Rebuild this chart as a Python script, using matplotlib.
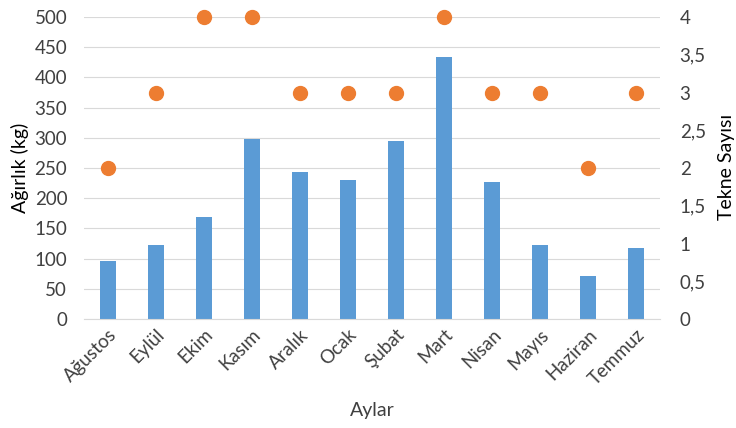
import matplotlib
matplotlib.use("Agg")
import matplotlib.pyplot as plt
import numpy as np
from matplotlib.ticker import FuncFormatter, MultipleLocator

aylar = ["Ağustos", "Eylül", "Ekim", "Kasım", "Aralık", "Ocak",
         "Şubat", "Mart", "Nisan", "Mayıs", "Haziran", "Temmuz"]
agirlik = [96, 123, 169, 298, 243, 230, 294, 434, 227, 123, 71, 118]
tekne = [2, 3, 4, 4, 3, 3, 3, 4, 3, 3, 2, 3]

plt.rcParams['font.family'] = ['Lato', 'DejaVu Sans']
text_col = '#404040'

fig = plt.figure(figsize=(7.36, 4.28), dpi=100)
ax = fig.add_axes([0.114, 0.2547, 0.783, 0.7053])
ax2 = ax.twinx()

x = np.arange(len(aylar))
ax.bar(x, agirlik, width=0.34, color='#5B9BD5', zorder=2)
ax2.plot(x, tekne, 'o', color='#ED7D31', markersize=10, zorder=3, clip_on=False)

ax.set_xlim(-0.5, len(aylar) - 0.5)
ax.set_ylim(0, 500)
ax.yaxis.set_major_locator(MultipleLocator(50))
ax2.set_ylim(0, 4)
ax2.yaxis.set_major_locator(MultipleLocator(0.5))
ax2.yaxis.set_major_formatter(FuncFormatter(lambda v, p: f'{v:g}'.replace('.', ',')))

ax.grid(axis='y', color='#d9d9d9', linewidth=0.8, zorder=0)
ax.set_axisbelow(True)
for a in (ax, ax2):
    for s in a.spines.values():
        s.set_visible(False)
    a.tick_params(length=0, labelsize=13.5, colors=text_col)
ax.spines['bottom'].set_visible(True)
ax.spines['bottom'].set_color('#d9d9d9')

ax.set_xticks(x)
ax.set_xticklabels(aylar, rotation=45, ha='right', rotation_mode='anchor')
ax.tick_params(axis='x', pad=5)
ax.tick_params(axis='y', pad=12)
ax2.tick_params(axis='y', pad=14)

ax.set_xlabel('Aylar', fontsize=14, color=text_col, labelpad=10)
ax.set_ylabel('Ağırlık (kg)', fontsize=14, color='black', labelpad=4)
fig.text(0.999, 0.61, 'Tekne Sayısı', rotation=90, fontsize=14,
         ha='right', va='center', color='black')

fig.savefig('out.png', dpi=100, facecolor='white')
